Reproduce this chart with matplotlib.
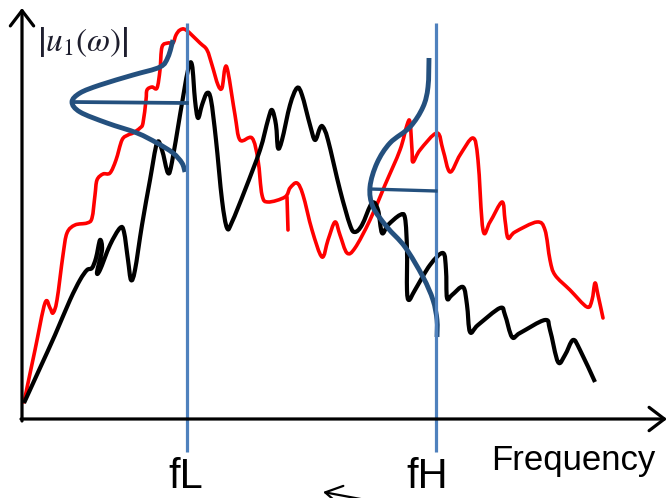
import numpy as np
import matplotlib
matplotlib.use("Agg")
import matplotlib.pyplot as plt
from matplotlib.path import Path
from matplotlib.patches import PathPatch

plt.rcParams['mathtext.fontset'] = 'stix'
plt.rcParams['font.family'] = ['Liberation Sans', 'DejaVu Sans']

# ---- data (schematic spectrum, arbitrary units) ----
black_freq = [2, 18, 33, 48, 58, 65, 70, 74, 78, 80, 75, 78, 88, 98, 102, 106, 109, 113, 120, 128,
              135, 140, 146, 150, 158, 166, 170, 173, 176, 180, 185, 189, 194, 200, 205, 210, 223,
              238, 246, 250, 254, 256, 260, 268, 275, 280, 288, 293, 298, 301, 306, 318, 328, 333,
              340, 350, 356, 360, 366, 378, 383, 385, 385, 387, 393, 408, 421, 424, 425, 430, 441,
              445, 448, 456, 478, 483, 490, 498, 523, 528, 536, 543, 551, 558, 573]
black_amp = [17, 52, 85, 120, 140, 150, 152, 162, 180, 170, 148, 150, 175, 192, 188, 160, 140, 150, 195, 240,
             277, 270, 247, 258, 305, 350, 355, 320, 302, 315, 327, 320, 280, 220, 192, 198, 230,
             270, 300, 310, 295, 272, 280, 315, 332, 325, 295, 280, 292, 293, 280, 230, 195, 188,
             195, 217, 210, 187, 195, 205, 202, 170, 130, 120, 130, 155, 167, 150, 122, 125, 133,
             115, 88, 95, 112, 105, 83, 87, 100, 90, 58, 65, 80, 70, 38]

red_freq = [2, 13, 23, 28, 31, 35, 41, 45, 53, 65, 70, 73, 75, 81, 88, 94, 100, 106, 111, 118, 121,
            124, 125, 130, 135, 138, 140, 146, 151, 154, 158, 164, 178, 185, 190, 196, 200, 203, 206,
            213, 218, 230, 236, 240, 246, 263, 268, 275, 281, 290, 300, 306, 313, 318, 325, 333, 348,
            363, 378, 385, 388, 390, 391, 398, 415, 421, 428, 438, 451, 456, 461, 468, 480, 483, 486,
            493, 515, 523, 528, 533, 548, 565, 570, 573, 576, 581]
red_amp = [18, 70, 117, 112, 107, 120, 165, 187, 195, 197, 202, 225, 240, 246, 247, 260, 280, 285, 287, 292, 297,
           320, 330, 333, 332, 350, 373, 377, 377, 385, 390, 390, 377, 370, 355, 335, 332, 352, 348,
           305, 280, 282, 260, 225, 218, 223, 232, 237, 225, 190, 163, 180, 198, 185, 167, 172, 200,
           235, 270, 295, 298, 270, 258, 270, 287, 270, 248, 265, 282, 260, 190, 198, 218, 200, 182,
           188, 198, 190, 160, 145, 130, 113, 120, 137, 125, 102]
red_stub_freq = [265, 266]
red_stub_amp = [223, 190]

bell_low_freq = [151, 146, 138, 111, 78, 58, 50, 58, 85, 115, 135, 151, 160, 163]
bell_low_amp = [380, 363, 353, 345, 335, 327, 318, 308, 297, 287, 277, 267, 257, 248]
bell_high_freq = [407, 406, 401, 388, 368, 355, 348, 351, 365, 383, 401, 411, 415, 415]
bell_high_amp = [362, 333, 313, 293, 277, 257, 233, 213, 193, 173, 143, 120, 100, 83]

f_low, f_high = 165, 414
peak_low_amp, peak_high_amp = 318, 230
tick_labels = ["fL", "fH"]


def smooth_path(xs, ys, t=0.5):
    """Catmull-Rom style Bezier path through the given points."""
    p = np.column_stack([xs, ys]).astype(float)
    verts = [p[0]]
    codes = [Path.MOVETO]
    n = len(p)
    for i in range(n - 1):
        p0 = p[i - 1] if i > 0 else p[i]
        p1 = p[i]
        p2 = p[i + 1]
        p3 = p[i + 2] if i + 2 < n else p[i + 1]
        c1 = p1 + (p2 - p0) * t / 3.0
        c2 = p2 - (p3 - p1) * t / 3.0
        verts += [c1, c2, p2]
        codes += [Path.CURVE4] * 3
    return Path(verts, codes)


fig = plt.figure(figsize=(6.67, 4.98), dpi=100)
ax = fig.add_axes([0, 0, 1, 1])
ax.set_xlim(-22, 645)
ax.set_ylim(-78, 420)
ax.axis('off')

# axes with arrows
ax.annotate('', xy=(0, 412), xytext=(0, -1),
            arrowprops=dict(arrowstyle='->,head_length=0.55,head_width=0.42',
                            lw=2.3, color='black', mutation_scale=20, shrinkA=0, shrinkB=0))
ax.annotate('', xy=(645, 1), xytext=(-1, 1),
            arrowprops=dict(arrowstyle='->,head_length=0.55,head_width=0.42',
                            lw=2.3, color='black', mutation_scale=20, shrinkA=0, shrinkB=0))

# spectra
ax.add_patch(PathPatch(smooth_path(red_freq, red_amp), fill=False, edgecolor='#ff0000',
                       lw=2.6, capstyle='round', joinstyle='round'))
ax.plot(red_stub_freq, red_stub_amp, color='#ff0000', lw=2.6, solid_capstyle='round')
ax.add_patch(PathPatch(smooth_path(black_freq, black_amp), fill=False, edgecolor='black',
                       lw=3.0, capstyle='butt', joinstyle='round'))

# cut-off frequency lines
ax.vlines([f_low, f_high], -32, 397, color='#4f81bd', lw=2.3)

# bells
bell_col = '#24507e'
ax.add_patch(PathPatch(smooth_path(bell_low_freq, bell_low_amp), fill=False, edgecolor=bell_col,
                       lw=3.5, joinstyle='round'))
ax.add_patch(PathPatch(smooth_path(bell_high_freq, bell_high_amp), fill=False, edgecolor=bell_col,
                       lw=3.5, joinstyle='round'))
ax.plot([50, f_low], [peak_low_amp, peak_low_amp - 1], color=bell_col, lw=2.7)
ax.plot([348, f_high], [peak_high_amp + 1, peak_high_amp - 1], color=bell_col, lw=2.4)

# labels
ax.text(61, 378, r'$\left|u_1(\omega)\right|$', fontsize=24, ha='center', va='center',
        color='#1e1e2e')
ax.text(f_low - 1, -68, tick_labels[0], fontsize=30, ha='center', va='baseline')
ax.text(f_high - 9, -68, tick_labels[1], fontsize=30, ha='center', va='baseline')
ax.text(469, -50, 'Frequency', fontsize=25, ha='left', va='baseline')

# small arrow at bottom (partially cut)
ax.annotate('', xy=(301, -72), xytext=(344, -80),
            arrowprops=dict(arrowstyle='->,head_length=0.6,head_width=0.35',
                            lw=1.6, color='black', mutation_scale=20, shrinkA=0, shrinkB=0),
            annotation_clip=False)

fig.savefig('out.png', dpi=100)
